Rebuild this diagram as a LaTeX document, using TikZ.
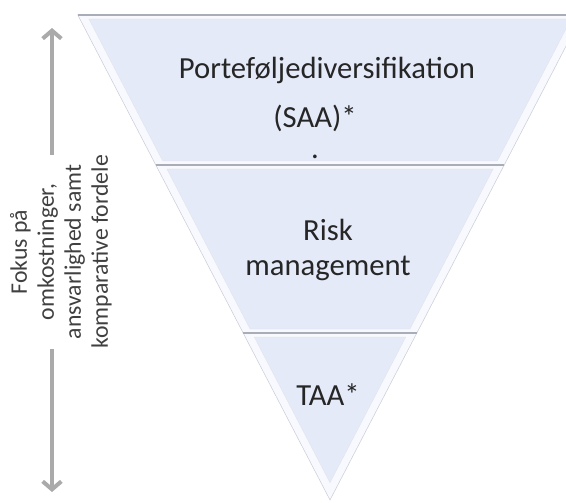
\documentclass[tikz,border=0pt]{standalone}
\usepackage{fontspec}
\setmainfont{Carlito}
\usetikzlibrary{arrows.meta}
\definecolor{bandfill}{RGB}{229,234,249}
\definecolor{bandrim}{RGB}{248,249,254}
\definecolor{bandline}{RGB}{168,173,184}
\definecolor{arrowgray}{RGB}{170,170,170}
\definecolor{labeltext}{RGB}{64,64,64}
\tikzset{
  bandtext/.style={font=\fontsize{23}{26}\selectfont, text=black!85, inner sep=0pt},
  sidetext/.style={font=\fontsize{17.8}{20.25}\selectfont, text=labeltext, rotate=90, align=center, inner sep=0pt},
  focusarrow/.style={arrowgray, line width=3pt, -{Straight Barb[length=6pt,width=14pt]}},
}

\begin{document}
\begin{tikzpicture}[x=0.75pt,y=-0.75pt]
  \useasboundingbox (0,0) rectangle (566,502);
  \clip (0,0) rectangle (566,502);
  \pgfmathsetmacro\slope{0.52}
  % the three bands of the funnel
  \foreach \ya/\yb in {15/165,165/333,333/500} {
    \pgfmathsetmacro\wa{\slope*(500-\ya)}
    \pgfmathsetmacro\wb{\slope*(500-\yb)}
    \pgfmathsetmacro\yd{\ya+4}
    \pgfmathsetmacro\yc{min(\yb-4,500-9/\slope)}
    \pgfmathsetmacro\ia{\slope*(500-\yd)-9}
    \pgfmathsetmacro\ib{\slope*(500-\yc)-9}
    \filldraw[fill=bandrim, draw=bandline!60, thin] ({330-\wa},\ya) -- ({330+\wa},\ya) -- ({330+\wb},\yb) -- ({330-\wb},\yb) -- cycle;
    \filldraw[fill=bandfill, draw=bandline!35, very thin] ({330-\ia},\yd) -- ({330+\ia},\yd) -- ({330+\ib},\yc) -- ({330-\ib},\yc) -- cycle;
    \draw[bandline, line width=1.5] ({330-\wa},\ya) -- ({330+\wa},\ya);
  }
  \node[bandtext] (port) at (327,70) {Porteføljediversifikation};
  \node[bandtext] (saa) at (315,118) {(SAA)*};
  \node[bandtext] (dot) at (315,157) {.};
  \node[bandtext, align=center, font=\fontsize{23}{26.25}\selectfont] (risk) at (328,250) {Risk\\management};
  \node[bandtext] (taa) at (328,395) {TAA*};
  % side label with arrows
  \node[sidetext] (focus) at (61,252) {Fokus på\\omkostninger,\\ansvarlighed samt\\komparative fordele};
  \coordinate (uptip) at (52,28);
  \coordinate (downtip) at (52,492);
  \draw[focusarrow] (focus.east -| uptip) -- (uptip);
  \draw[focusarrow] (focus.west -| downtip) -- (downtip);
\end{tikzpicture}
\end{document}
